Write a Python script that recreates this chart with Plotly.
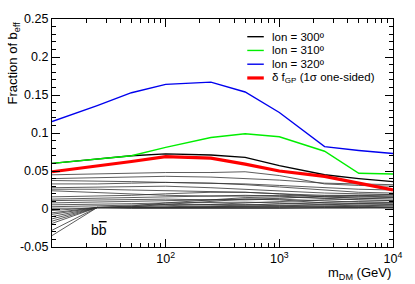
import plotly.graph_objects as go

# ---------------- data ----------------
masses = [10, 25, 50, 100, 250, 500, 1000, 2500, 5000, 10000]

lon300 = [0.060, 0.0657, 0.070, 0.0725, 0.071, 0.068, 0.057, 0.045, 0.040, 0.036]
lon310 = [0.060, 0.0657, 0.070, 0.081, 0.094, 0.099, 0.095, 0.076, 0.047, 0.046]
lon320 = [0.115, 0.136, 0.153, 0.164, 0.167, 0.154, 0.127, 0.082, 0.077, 0.073]
delta_fgp = [0.049, 0.0564, 0.0625, 0.069, 0.067, 0.059, 0.050, 0.043, 0.034, 0.025]

thin_lines = [
    [0.045, 0.046, 0.047, 0.048, 0.048, 0.049, 0.044, 0.033, 0.031, 0.030],
    [0.040, 0.041, 0.042, 0.043, 0.042, 0.040, 0.038, 0.034, 0.033, 0.032],
    [0.0375, 0.037, 0.036, 0.035, 0.034, 0.033, 0.031, 0.028, 0.026, 0.025],
    [0.033, 0.033, 0.034, 0.035, 0.034, 0.032, 0.029, 0.025, 0.022, 0.021],
    [0.028, 0.029, 0.030, 0.030, 0.028, 0.026, 0.024, 0.021, 0.020, 0.019],
    [0.026, 0.026, 0.025, 0.024, 0.023, 0.022, 0.020, 0.018, 0.018, 0.017],
    [0.024, 0.022, 0.020, 0.018, 0.017, 0.017, 0.018, 0.017, 0.016, 0.015],
    [0.016, 0.017, 0.018, 0.020, 0.022, 0.022, 0.020, 0.016, 0.014, 0.013],
    [0.013, 0.014, 0.015, 0.016, 0.017, 0.018, 0.017, 0.014, 0.012, 0.011],
    [0.011, 0.012, 0.013, 0.013, 0.012, 0.012, 0.013, 0.011, 0.009, 0.0085],
    [0.008, 0.009, 0.010, 0.011, 0.012, 0.013, 0.012, 0.008, 0.007, 0.0065],
    [0.0055, 0.006, 0.007, 0.008, 0.009, 0.009, 0.008, 0.006, 0.005, 0.004],
    [0.003, 0.004, 0.005, 0.006, 0.006, 0.006, 0.005, 0.004, 0.003, 0.002],
    [0.001, 0.001, 0.002, 0.002, 0.003, 0.003, 0.003, 0.002, 0.002, 0.001],
    [-0.002, 0.002, 0.004, 0.008, 0.012, 0.015, 0.016, 0.014, 0.016, 0.017],
    [-0.005, 0.002, 0.003, 0.006, 0.010, 0.013, 0.014, 0.017, 0.018, 0.019],
    [-0.007, 0.002, 0.003, 0.004, 0.006, 0.008, 0.010, 0.012, 0.013, 0.015],
    [-0.010, 0.002, 0.002, 0.003, 0.004, 0.005, 0.007, 0.009, 0.010, 0.011],
    [-0.013, 0.002, 0.002, 0.002, 0.003, 0.004, 0.005, 0.006, 0.007, 0.008],
    [-0.016, 0.002, 0.002, 0.002, 0.002, 0.003, 0.003, 0.004, 0.005, 0.006],
    [-0.019, 0.002, 0.002, 0.002, 0.002, 0.002, 0.002, 0.003, 0.003, 0.004],
    [-0.028, 0.002, 0.001, 0.001, 0.001, 0.001, 0.001, 0.002, 0.002, 0.002],
    [-0.035, 0.002, 0.001, 0.001, 0.001, 0.001, 0.001, 0.001, 0.001, 0.002],
]

y_tickvals = [-0.05, 0, 0.05, 0.1, 0.15, 0.2, 0.25]
y_ticktext = ["-0.05", "0", "0.05", "0.1", "0.15", "0.2", "0.25"]
x_tickvals = [100, 1000, 10000]
x_ticktext = ["10<sup>2</sup>", "10<sup>3</sup>", "10<sup>4</sup>"]
x_minor = [v * d for d in (10, 100, 1000) for v in range(2, 10)]

legend_labels = ["lon = 300º", "lon = 310º", "lon = 320º",
                 "δ f<sub>GP</sub> (1σ one-sided)"]
legend_colors = ["black", "#00ee00", "#0000ee", "#ff0000"]
legend_widths = [1.4, 1.4, 1.4, 3.2]

FONT = "Liberation Sans, Arial, sans-serif"

fig = go.Figure()

for ys in thin_lines:
    fig.add_trace(go.Scatter(x=masses, y=ys, mode="lines",
                             line=dict(color="#333333", width=0.8),
                             showlegend=False, hoverinfo="skip"))

main_series = [lon300, lon310, lon320, delta_fgp]
for ys, col, w in zip(main_series, legend_colors, legend_widths):
    fig.add_trace(go.Scatter(x=masses, y=ys, mode="lines",
                             line=dict(color=col, width=w),
                             showlegend=False))

# manual legend (ROOT style)
L, R, T, B = 52, 403, 15, 247
W, H = R - L, B - T
def px(xp):
    return (xp - L) / W
def py(yp):
    return (B - yp) / H

leg_y = [33, 47, 61, 75]
for yy, lab, col, w in zip(leg_y, legend_labels, legend_colors, legend_widths):
    fig.add_shape(type="line", xref="paper", yref="paper",
                  x0=px(253), x1=px(270), y0=py(yy), y1=py(yy),
                  line=dict(color=col, width=w))
    fig.add_annotation(xref="paper", yref="paper", x=px(276), y=py(yy),
                       xanchor="left", yanchor="middle", text=lab,
                       showarrow=False, font=dict(size=11.5, color="black", family=FONT))

# axis titles
fig.add_annotation(xref="paper", yref="paper", x=px(2), y=1.0,
                   xanchor="left", yanchor="top", textangle=-90,
                   text="Fraction of b<sub>eff</sub>", showarrow=False,
                   font=dict(size=13, color="black", family=FONT))
fig.add_annotation(xref="paper", yref="paper", x=1.0, y=py(274),
                   xanchor="right", yanchor="middle",
                   text="m<sub>DM</sub> (GeV)", showarrow=False,
                   font=dict(size=13, color="black", family=FONT))
fig.add_annotation(xref="x", yref="y", x=1.41, y=-0.027,
                   text="b<span style='text-decoration:overline'>b</span>",
                   showarrow=False, font=dict(size=14, color="black", family=FONT))

fig.update_layout(
    width=415, height=284,
    margin=dict(l=L, r=415 - R, t=T, b=284 - B, pad=0),
    paper_bgcolor="white", plot_bgcolor="white",
    font=dict(family=FONT, size=12, color="black"),
    showlegend=False,
)
fig.update_xaxes(type="log", range=[1, 4], showgrid=False, zeroline=False,
                 showline=True, linecolor="black", linewidth=1.2, mirror="allticks",
                 ticks="inside", ticklen=8, tickcolor="black", tickwidth=1,
                 tickmode="array", tickvals=x_tickvals, ticktext=x_ticktext,
                 tickfont=dict(size=12.5), ticklabelstandoff=0,
                 minor=dict(ticks="inside", ticklen=4, tickcolor="black",
                            tickmode="array", tickvals=x_minor, showgrid=False))
fig.update_yaxes(range=[-0.05, 0.25], showgrid=False, zeroline=False,
                 showline=True, linecolor="black", linewidth=1.2, mirror="allticks",
                 ticks="inside", ticklen=8, tickcolor="black", tickwidth=1,
                 tickmode="array", tickvals=y_tickvals, ticktext=y_ticktext,
                 tickfont=dict(size=12.5), ticklabelstandoff=0,
                 minor=dict(ticks="inside", ticklen=4, tickcolor="black",
                            dtick=0.01, showgrid=False))

fig.write_html("out.html", config={"displayModeBar": False},
               post_script="document.body.style.margin='0px';")
